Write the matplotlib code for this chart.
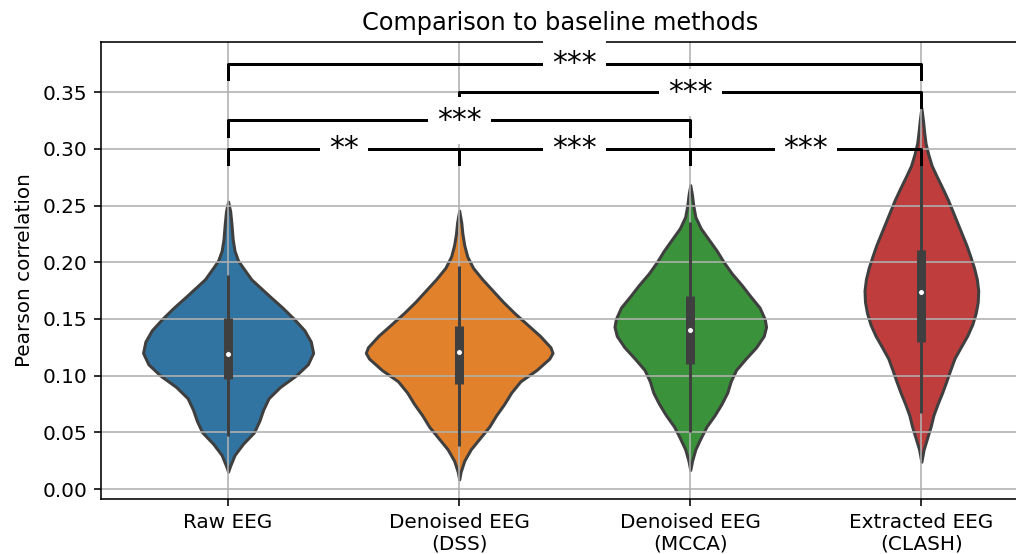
import numpy as np
import matplotlib.pyplot as plt

# categories and colours
labels = ['Raw EEG', 'Denoised EEG\n(DSS)', 'Denoised EEG\n(MCCA)', 'Extracted EEG\n(CLASH)']
colors = ['#3274a1', '#e1812c', '#3a923a', '#c03d3e']

# violin outlines: correlation level and half width
raw_y = [0.0153, 0.020, 0.030, 0.040, 0.050, 0.060, 0.070, 0.080, 0.090, 0.100, 0.110, 0.120,
         0.130, 0.140, 0.150, 0.160, 0.170, 0.185, 0.195, 0.2015, 0.210, 0.220, 0.235, 0.245, 0.2535]
raw_w = [0.0, 0.008, 0.028, 0.065, 0.112, 0.135, 0.152, 0.175, 0.225, 0.293, 0.345, 0.368,
         0.358, 0.33, 0.285, 0.235, 0.18, 0.10, 0.065, 0.043, 0.028, 0.020, 0.014, 0.009, 0.0]

dss_y = [0.0085, 0.015, 0.025, 0.035, 0.045, 0.055, 0.065, 0.075, 0.085, 0.095, 0.105, 0.115,
         0.120, 0.125, 0.135, 0.145, 0.155, 0.165, 0.175, 0.185, 0.195, 0.205, 0.215, 0.225,
         0.235, 0.2455]
dss_w = [0.0, 0.006, 0.022, 0.05, 0.09, 0.13, 0.16, 0.195, 0.225, 0.265, 0.335, 0.39,
         0.404, 0.395, 0.35, 0.295, 0.24, 0.19, 0.145, 0.10, 0.06, 0.035, 0.022, 0.014,
         0.009, 0.0]

mcca_y = [0.0168, 0.025, 0.035, 0.045, 0.055, 0.065, 0.075, 0.085, 0.095, 0.105, 0.115, 0.125,
          0.135, 0.143, 0.150, 0.160, 0.170, 0.180, 0.190, 0.200, 0.210, 0.220, 0.230, 0.240,
          0.250, 0.260, 0.268]
mcca_w = [0.0, 0.008, 0.022, 0.045, 0.07, 0.105, 0.135, 0.16, 0.175, 0.198, 0.24, 0.285,
          0.318, 0.328, 0.322, 0.30, 0.26, 0.222, 0.18, 0.145, 0.115, 0.08, 0.045, 0.022,
          0.013, 0.007, 0.0]

clash_y = [0.024, 0.035, 0.045, 0.055, 0.065, 0.075, 0.085, 0.095, 0.105, 0.115, 0.125, 0.135,
           0.145, 0.155, 0.165, 0.175, 0.185, 0.195, 0.205, 0.215, 0.225, 0.235, 0.245, 0.255,
           0.265, 0.275, 0.285, 0.295, 0.305, 0.315, 0.325, 0.336]
clash_w = [0.0, 0.01, 0.025, 0.04, 0.052, 0.07, 0.09, 0.108, 0.125, 0.143, 0.17, 0.198,
           0.22, 0.235, 0.244, 0.246, 0.24, 0.228, 0.212, 0.195, 0.175, 0.155, 0.135, 0.115,
           0.092, 0.068, 0.045, 0.03, 0.018, 0.012, 0.007, 0.0]

# inner box: whisker ends, quartiles, median
whisk_lo = [0.0465, 0.0382, 0.050, 0.0668]
whisk_hi = [0.189, 0.1965, 0.2353, 0.286]
q25 = [0.097, 0.0926, 0.1103, 0.130]
q75 = [0.1506, 0.144, 0.1706, 0.2109]
medians = [0.119, 0.1206, 0.1403, 0.1738]

# significance brackets
br_left = [0, 1, 2, 0, 1, 0]
br_right = [1, 2, 3, 2, 3, 3]
br_level = [0.30, 0.30, 0.30, 0.325, 0.35, 0.375]
br_text = ['**', '***', '***', '***', '***', '***']

W, H, DPI = 1016, 554, 144
fig = plt.figure(figsize=(W / DPI, H / DPI), dpi=DPI)
ax = fig.add_axes([101 / W, 55 / H, 918 / W, 457 / H])

profiles = [(raw_y, raw_w), (dss_y, dss_w), (mcca_y, mcca_w), (clash_y, clash_w)]
stats = []
for (yy, ww), m in zip(profiles, medians):
    yy = np.array(yy)
    ww = np.array(ww)
    stats.append(dict(coords=yy, vals=ww, mean=m, median=m, min=yy.min(), max=yy.max()))
pos = np.arange(len(labels))
widths = [2 * max(w) for _, w in profiles]
parts = ax.violin(stats, positions=pos, widths=widths,
                  showmeans=False, showextrema=False, showmedians=False)
for body, c in zip(parts['bodies'], colors):
    body.set_facecolor(c)
    body.set_edgecolor('#3f3f3f')
    body.set_linewidth(1.5)
    body.set_alpha(1)
    body.set_zorder(1)

gray = '#3f3f3f'
for i in range(len(labels)):
    ax.plot([i, i], [whisk_lo[i], whisk_hi[i]], color=gray, lw=1.5, solid_capstyle='butt', zorder=2)
    ax.plot([i, i], [q25[i], q75[i]], color=gray, lw=4.5, solid_capstyle='butt', zorder=2)
ax.scatter(pos, medians, s=9, color='white', edgecolor=gray, linewidth=0.5, zorder=3)

tick = 0.0135
for a, b, lev, t in zip(br_left, br_right, br_level, br_text):
    ax.plot([a, a, b, b], [lev - tick, lev, lev, lev - tick], color='black', lw=1.5, zorder=2)
    ax.text((a + b) / 2, lev, t, ha='center', va='center', fontsize=15, zorder=3,
            bbox=dict(boxstyle='square,pad=0.3', fc='white', ec='none'))

ax.set_xlim(-0.55, 3.4225)
ax.set_ylim(-0.0088, 0.3942)
ax.set_xticks(pos)
ax.set_xticklabels(labels)
ax.set_yticks(np.arange(0, 0.351, 0.05))
ax.grid(True, color='#b0b0b0', lw=0.8)
ax.set_ylabel('Pearson correlation')
ax.set_title('Comparison to baseline methods', fontsize=12)

fig.savefig('out.png', dpi=DPI)
